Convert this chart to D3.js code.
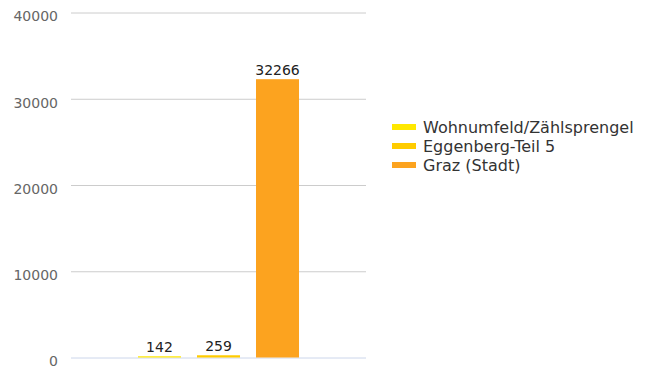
<!DOCTYPE html>
<html>
<head>
<meta charset="utf-8">
<script src="https://cdn.jsdelivr.net/npm/d3@7"></script>
<style>
  html, body { margin: 0; padding: 0; background: #fff; }
  svg { display: block; font-family: "DejaVu Sans", sans-serif; }
</style>
</head>
<body>
<svg id="chart" width="648" height="370"></svg>
<script>
const categories = ["Einwohner"];
const seriesNames = ["Wohnumfeld/Zählsprengel", "Eggenberg-Teil 5", "Graz (Stadt)"];
const seriesValues = [142, 259, 32266];
const seriesColors = ["#ffe800", "#ffcc00", "#fca31f"];
const yTicks = [0, 10000, 20000, 30000, 40000];

(function () {
  const svg = d3.select("#chart");
  const plotLeft = 71, plotRight = 366, plotTop = 12.5, plotBottom = 357.5;

  const y = d3.scaleLinear().domain([0, 40000]).range([plotBottom, plotTop]);
  const x0 = d3.scaleBand().domain(categories).range([plotLeft, plotRight]).paddingInner(0).paddingOuter(0.416);
  const x1 = d3.scaleBand().domain(seriesNames).range([0, x0.bandwidth()]).paddingInner(0.271).paddingOuter(0);

  // grid lines and y labels
  const yAxis = d3.axisLeft(y).tickValues(yTicks).tickSize(-(plotRight - plotLeft)).tickFormat(d3.format("d"));
  const ga = svg.append("g").attr("transform", `translate(${plotLeft},0)`).call(yAxis);
  ga.select(".domain").remove();
  ga.selectAll(".tick line").attr("stroke", d => d === 0 ? "#ccd6eb" : "#cccccc").attr("stroke-width", 1);
  ga.selectAll(".tick text").attr("x", -13).attr("dy", "0.6em").attr("fill", "#666666").attr("font-size", 14)
    .attr("font-family", "DejaVu Sans, sans-serif");

  // bars
  const g = svg.append("g").attr("transform", `translate(${x0(categories[0])},0)`);
  const data = seriesNames.map((n, i) => ({ name: n, value: seriesValues[i], color: seriesColors[i] }));
  g.selectAll("rect").data(data).enter().append("rect")
    .attr("x", d => x1(d.name))
    .attr("width", x1.bandwidth())
    .attr("y", d => y(d.value))
    .attr("height", d => y(0) - y(d.value))
    .attr("fill", d => d.color);

  g.selectAll("text.val").data(data).enter().append("text")
    .attr("class", "val")
    .attr("x", d => x1(d.name) + x1.bandwidth() / 2)
    .attr("y", d => y(d.value) - 4)
    .attr("text-anchor", "middle")
    .attr("font-size", 14)
    .attr("fill", "#222")
    .text(d => d.value);

  // legend
  const lg = svg.append("g").attr("transform", "translate(392,127)");
  const item = lg.selectAll("g").data(data).enter().append("g")
    .attr("transform", (d, i) => `translate(0,${i * 19})`);
  item.append("rect").attr("x", 0).attr("y", -3).attr("width", 24).attr("height", 6).attr("fill", d => d.color);
  item.append("text").attr("x", 31).attr("y", 0).attr("dy", "0.35em")
    .attr("font-size", 16).attr("fill", "#333").text(d => d.name);
})();
</script>
</body>
</html>
